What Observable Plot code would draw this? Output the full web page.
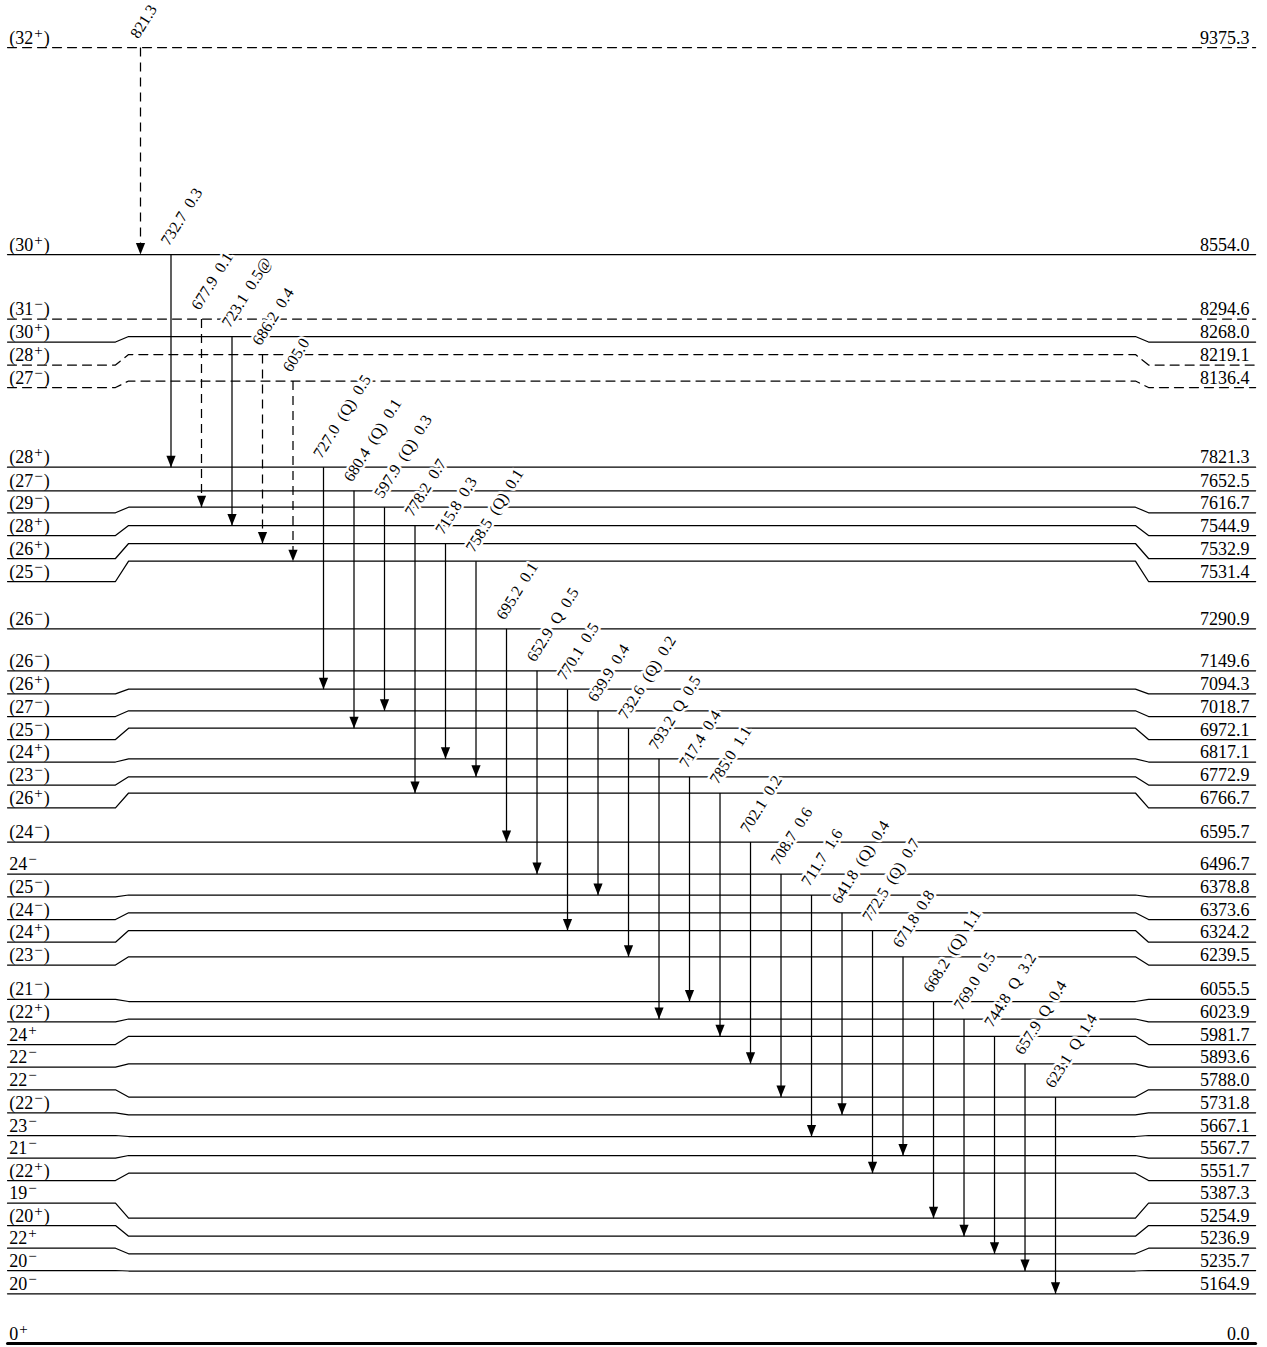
<!DOCTYPE html>
<html><head><meta charset="utf-8">
<script src="https://cdn.jsdelivr.net/npm/d3@7"></script>
<script src="https://cdn.jsdelivr.net/npm/@observablehq/plot@0.6"></script>
<style>body{margin:0;background:#fff}</style>
</head><body><div id="chart"></div>
<script>
// ---- Level data ----
const levelEnergy = [9375.3, 8554.0, 8294.6, 8268.0, 8219.1, 8136.4, 7821.3, 7652.5, 7616.7, 7544.9,
  7532.9, 7531.4, 7290.9, 7149.6, 7094.3, 7018.7, 6972.1, 6817.1, 6772.9, 6766.7,
  6595.7, 6496.7, 6378.8, 6373.6, 6324.2, 6239.5, 6055.5, 6023.9, 5981.7, 5893.6,
  5788.0, 5731.8, 5667.1, 5567.7, 5551.7, 5387.3, 5254.9, 5236.9, 5235.7, 5164.9, 0.0];
const levelSpin = ["(32+)", "(30+)", "(31−)", "(30+)", "(28+)", "(27−)", "(28+)", "(27−)", "(29−)", "(28+)",
  "(26+)", "(25−)", "(26−)", "(26−)", "(26+)", "(27−)", "(25−)", "(24+)", "(23−)", "(26+)",
  "(24−)", "24−", "(25−)", "(24−)", "(24+)", "(23−)", "(21−)", "(22+)", "24+", "22−",
  "22−", "(22−)", "23−", "21−", "(22+)", "19−", "(20+)", "22+", "20−", "20−", "0+"];
const levelTentative = [true, false, true, false, true, true, false, false, false, false,
  false, false, false, false, false, false, false, false, false, false,
  false, false, false, false, false, false, false, false, false, false,
  false, false, false, false, false, false, false, false, false, false, false];

// ---- Gamma transitions (ordered left to right) ----
const gammaEnergy = ["821.3", "732.7", "677.9", "723.1", "686.2", "605.0", "727.0", "680.4", "597.9", "778.2",
  "715.8", "758.5", "695.2", "652.9", "770.1", "639.9", "732.6", "793.2", "717.4", "785.0",
  "702.1", "708.7", "711.7", "641.8", "772.5", "671.8", "668.2", "769.0", "744.8", "657.9", "623.1"];
const gammaFrom = [9375.3, 8554.0, 8294.6, 8268.0, 8219.1, 8136.4, 7821.3, 7652.5, 7616.7, 7544.9,
  7532.9, 7531.4, 7290.9, 7149.6, 7094.3, 7018.7, 6972.1, 6817.1, 6772.9, 6766.7,
  6595.7, 6496.7, 6378.8, 6373.6, 6324.2, 6239.5, 6055.5, 6023.9, 5981.7, 5893.6, 5788.0];
const gammaMult = ["", "", "", "", "", "", "(Q)", "(Q)", "(Q)", "",
  "", "(Q)", "", "Q", "", "", "(Q)", "Q", "", "",
  "", "", "", "(Q)", "(Q)", "", "(Q)", "", "Q", "Q", "Q"];
const gammaIntensity = ["", "0.3", "0.1", "0.5@", "0.4", "", "0.5", "0.1", "0.3", "0.7",
  "0.3", "0.1", "0.1", "0.5", "0.5", "0.4", "0.2", "0.5", "0.4", "1.1",
  "0.2", "0.6", "1.6", "0.4", "0.7", "0.8", "1.1", "0.5", "3.2", "0.4", "1.4"];
const gammaTentative = [true, false, true, false, true, true, false, false, false, false,
  false, false, false, false, false, false, false, false, false, false,
  false, false, false, false, false, false, false, false, false, false, false];

// ---- Layout of the scheme (drawing rows, in scheme units) ----
const levelRow = [47, 254, 318.5, 341.5, 364.5, 387, 466.7, 490.3, 512.3, 535,
  558, 581, 628.3, 670.3, 693.3, 716, 739, 761.5, 784.5, 807.3,
  841.5, 873.5, 896.3, 919, 941.7, 964.5, 998.8, 1021.3, 1044, 1066.7,
  1089.3, 1112.3, 1135, 1157.7, 1180, 1202.7, 1225, 1247.7, 1270, 1293.3, 1343];
const levelMid = [47, 254, 318.5, 336, 354, 380.5, 466.7, 490.3, 506.7, 525,
  543, 560.7, 628.3, 670.3, 688.7, 710.3, 727.7, 758.3, 776.3, 792.5,
  841.5, 873.5, 894.5, 912.3, 930, 956.3, 1001, 1018.5, 1035.8, 1063.3,
  1096.5, 1114.3, 1136, 1155, 1172.7, 1217.7, 1235.7, 1253.3, 1270.5, 1293.3, 1343];
// column positions (gamma i sits at column i)
const COL = {left: -4.36, kinkL0: -0.82, kinkL1: -0.39, kinkR0: 32.62, kinkR1: 33.05, right: 36.56, labL: -4.30, labR: 36.36};

const levels = levelEnergy.map((e, i) => ({e, spin: levelSpin[i], tent: levelTentative[i], row: levelRow[i], mid: levelMid[i]}));
const findLevel = (E) => levels.reduce((a, b) => Math.abs(b.e - E) < Math.abs(a.e - E) ? b : a);

const pts = levels.flatMap(l => [
  [COL.left, l.row], [COL.kinkL0, l.row], [COL.kinkL1, l.mid],
  [COL.kinkR0, l.mid], [COL.kinkR1, l.row], [COL.right, l.row]
].map(([c, y]) => ({c, y, e: l.e, tent: l.tent})));

const SEP = "\u2002";
const gammas = gammaEnergy.map((g, i) => {
  const from = findLevel(gammaFrom[i]);
  const to = findLevel(gammaFrom[i] - parseFloat(g));
  const label = [g, gammaMult[i], gammaIntensity[i]].filter(s => s).join(SEP);
  return {c: i, y1: from.mid, y2: to.mid, label, tent: gammaTentative[i]};
});

const triDown = {draw(ctx) { ctx.moveTo(0, 0); ctx.lineTo(-4.6, -11.5); ctx.lineTo(4.6, -11.5); ctx.closePath(); }};
const FONT = "'Liberation Serif', 'Times New Roman', serif";

const chart = Plot.plot({
  width: 1267, height: 1347,
  marginTop: 0, marginBottom: 0, marginLeft: 0, marginRight: 0,
  style: {background: "white", fontFamily: FONT},
  x: {domain: [-4.59, 36.95], range: [0, 1267], axis: null},
  y: {domain: [0, 1347], range: [0, 1347], axis: null},
  marks: [
    Plot.line(pts.filter(d => !d.tent && d.e > 0), {x: "c", y: "y", z: "e", stroke: "black", strokeWidth: 1.25}),
    Plot.line(pts.filter(d => d.tent), {x: "c", y: "y", z: "e", stroke: "black", strokeWidth: 1.25, strokeDasharray: "9,6"}),
    Plot.line(pts.filter(d => d.e === 0), {x: "c", y: "y", z: "e", stroke: "black", strokeWidth: 3}),
    Plot.link(gammas.filter(d => !d.tent), {x1: "c", x2: "c", y1: "y1", y2: "y2", stroke: "black", strokeWidth: 1.25}),
    Plot.link(gammas.filter(d => d.tent), {x1: "c", x2: "c", y1: "y1", y2: "y2", stroke: "black", strokeWidth: 1.25, strokeDasharray: "9,6"}),
    Plot.dot(gammas, {x: "c", y: "y2", symbol: triDown, fill: "black", stroke: "none"}),
    Plot.text(gammas, {x: "c", y: "y1", text: "label", rotate: -58, textAnchor: "start", lineAnchor: "bottom",
      dx: -2, dy: -8, fontSize: 16, fontFamily: FONT, fill: "black", stroke: "white", strokeWidth: 5, paintOrder: "stroke"}),
    Plot.text(levels, {x: () => COL.labL, y: "row", text: "spin", textAnchor: "start", lineAnchor: "bottom",
      dy: -4, fontSize: 18, fontFamily: FONT, fill: "black"}),
    Plot.text(levels, {x: () => COL.labR, y: "row", text: d => d.e.toFixed(1), textAnchor: "end", lineAnchor: "bottom",
      dy: -4, fontSize: 18, fontFamily: FONT, fill: "black"})
  ]
});

// superscript parity signs in spin labels
const NS = "http://www.w3.org/2000/svg";
chart.querySelectorAll("text").forEach(t => {
  const m = (t.textContent || "").match(/^(\(?)(\d+)([+−])(\)?)$/);
  if (!m) return;
  t.textContent = m[1] + m[2];
  const sup = document.createElementNS(NS, "tspan");
  sup.setAttribute("dx", "1"); sup.setAttribute("dy", "-6"); sup.setAttribute("font-size", "15"); sup.textContent = m[3];
  t.appendChild(sup);
  if (m[4]) {
    const c = document.createElementNS(NS, "tspan");
    c.setAttribute("dx", "1"); c.setAttribute("dy", "6"); c.textContent = m[4];
    t.appendChild(c);
  }
});
document.getElementById("chart").appendChild(chart);
</script>
</body></html>
